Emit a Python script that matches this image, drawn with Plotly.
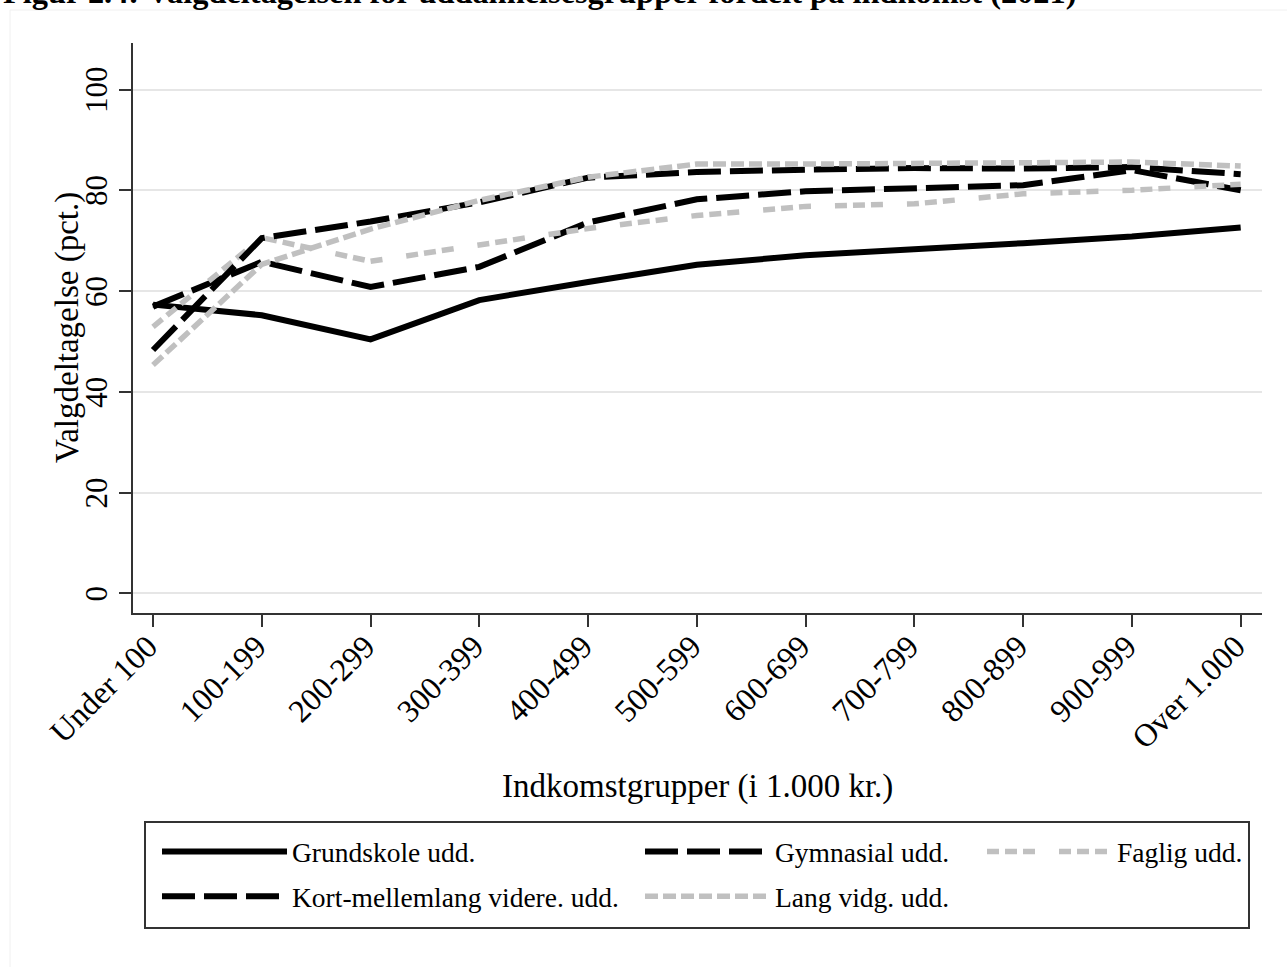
import plotly.graph_objects as go

categories = ["Under 100", "100-199", "200-299", "300-399", "400-499", "500-599",
              "600-699", "700-799", "800-899", "900-999", "Over 1.000"]

grundskole = [57.3, 55.2, 50.4, 58.2, 61.8, 65.2, 67.1, 68.2, 69.5, 70.8, 72.6]
gymnasial = [56.9, 65.8, 60.8, 64.8, 73.6, 78.2, 79.8, 80.5, 81.0, 84.0, 80.0]
faglig = [52.9, 70.6, 65.9, 69.1, 72.4, 75.0, 76.8, 77.3, 79.3, 80.0, 81.2]
kort_mellemlang = [48.3, 70.5, 73.8, 77.6, 82.5, 83.6, 84.1, 84.4, 84.3, 84.6, 83.2]
lang_vidg = [45.3, 65.3, 72.3, 78.0, 82.6, 85.2, 85.2, 85.3, 85.4, 85.6, 84.8]

y_ticks = [0, 20, 40, 60, 80, 100]

SERIF = "Liberation Serif, Times New Roman, serif"
BLACK = "#000000"
GREY = "#c0c0c0"

W, H = 1287, 967
L, R, T, B = 133, 25, 43, 354
PW, PH = W - L - R, H - T - B


def px_x(px):
    return (px - L) / PW


def px_y(py):
    return (H - B - py) / PH


fig = go.Figure()

series = [
    ("Grundskole udd.", grundskole, BLACK, "solid", 6, "legend"),
    ("Gymnasial udd.", gymnasial, BLACK, "33px,9px", 6, "legend2"),
    ("Faglig udd.", faglig, GREY, "12px,6px,12px,6px,12px,24px", 5.5, "legend3"),
    ("Kort-mellemlang videre. udd.", kort_mellemlang, BLACK, "33px,9px", 6, "legend"),
    ("Lang vidg. udd.", lang_vidg, GREY, "13px,5px", 5.5, "legend2"),
]

for name, vals, color, dash, width, leg in series:
    fig.add_trace(go.Scatter(
        x=categories, y=vals, mode="lines", name=name,
        line=dict(color=color, dash=dash, width=width),
        legend=leg, legendgroup=name,
    ))

leg_common = dict(
    orientation="v", font=dict(family=SERIF, size=27.5, color="black"),
    itemwidth=125, bgcolor="rgba(0,0,0,0)", borderwidth=0,
    xref="container", yref="container", xanchor="left", yanchor="top",
    traceorder="grouped", tracegroupgap=6,
)

fig.update_layout(
    width=W, height=H,
    margin=dict(l=L, r=R, t=T, b=B, autoexpand=False),
    paper_bgcolor="white", plot_bgcolor="white",
    font=dict(family=SERIF, color="black"),
    showlegend=True,
    legend=dict(x=157 / W, y=1 - 827 / H, **leg_common),
    legend2=dict(x=640 / W, y=1 - 827 / H, **leg_common),
    legend3=dict(x=982 / W, y=1 - 827 / H, **leg_common),
    xaxis=dict(
        type="category", range=[-0.184, 10.196],
        showline=True, linecolor="#333333", linewidth=2,
        ticks="outside", ticklen=12, tickwidth=2, tickcolor="#333333",
        tickangle=-45, tickfont=dict(family=SERIF, size=32, color="black"),
        ticklabelshift=-5, ticklabelstandoff=-12,
        showgrid=False, zeroline=False, automargin=False,
    ),
    yaxis=dict(
        range=[-3.91, 109.23], tickvals=y_ticks,
        showline=True, linecolor="#333333", linewidth=2,
        ticks="outside", ticklen=12, tickwidth=2, tickcolor="#333333",
        tickangle=-90, tickfont=dict(family=SERIF, size=31, color="black"),
        ticklabelshift=5,
        showgrid=True, gridcolor="#e6e6e6", gridwidth=2,
        zeroline=False, automargin=False,
    ),
)

# axis titles
fig.add_annotation(
    text="Valgdeltagelse (pct.)", xref="paper", yref="paper",
    x=px_x(67), y=px_y(328), textangle=-90, showarrow=False,
    font=dict(family=SERIF, size=33, color="black"),
    xanchor="center", yanchor="middle",
)
fig.add_annotation(
    text="Indkomstgrupper (i 1.000 kr.)", xref="paper", yref="paper",
    x=px_x(697), y=px_y(786), showarrow=False,
    font=dict(family=SERIF, size=33, color="black"),
    xanchor="center", yanchor="middle",
)

# figure title (cropped at the top in the original)
fig.add_annotation(
    text="<b>Figur 2.4: Valgdeltagelsen for uddannelsesgrupper fordelt på indkomst (2021)</b>",
    xref="paper", yref="paper", x=px_x(1), y=px_y(12),
    showarrow=False, xanchor="left", yanchor="bottom",
    font=dict(family=SERIF, size=32.4, color="black"),
)

# faint outer graph-region border
fig.add_shape(type="rect", xref="paper", yref="paper",
              x0=px_x(10), x1=px_x(1300), y0=px_y(980), y1=px_y(10),
              line=dict(color="#f0f0f0", width=1), layer="below")

# legend box
fig.add_shape(type="rect", xref="paper", yref="paper",
              x0=px_x(145), x1=px_x(1249), y0=px_y(928), y1=px_y(822),
              line=dict(color="#333333", width=2))

fig.write_html("out.html", config={"displayModeBar": False},
               post_script="document.body.style.margin='0';")
